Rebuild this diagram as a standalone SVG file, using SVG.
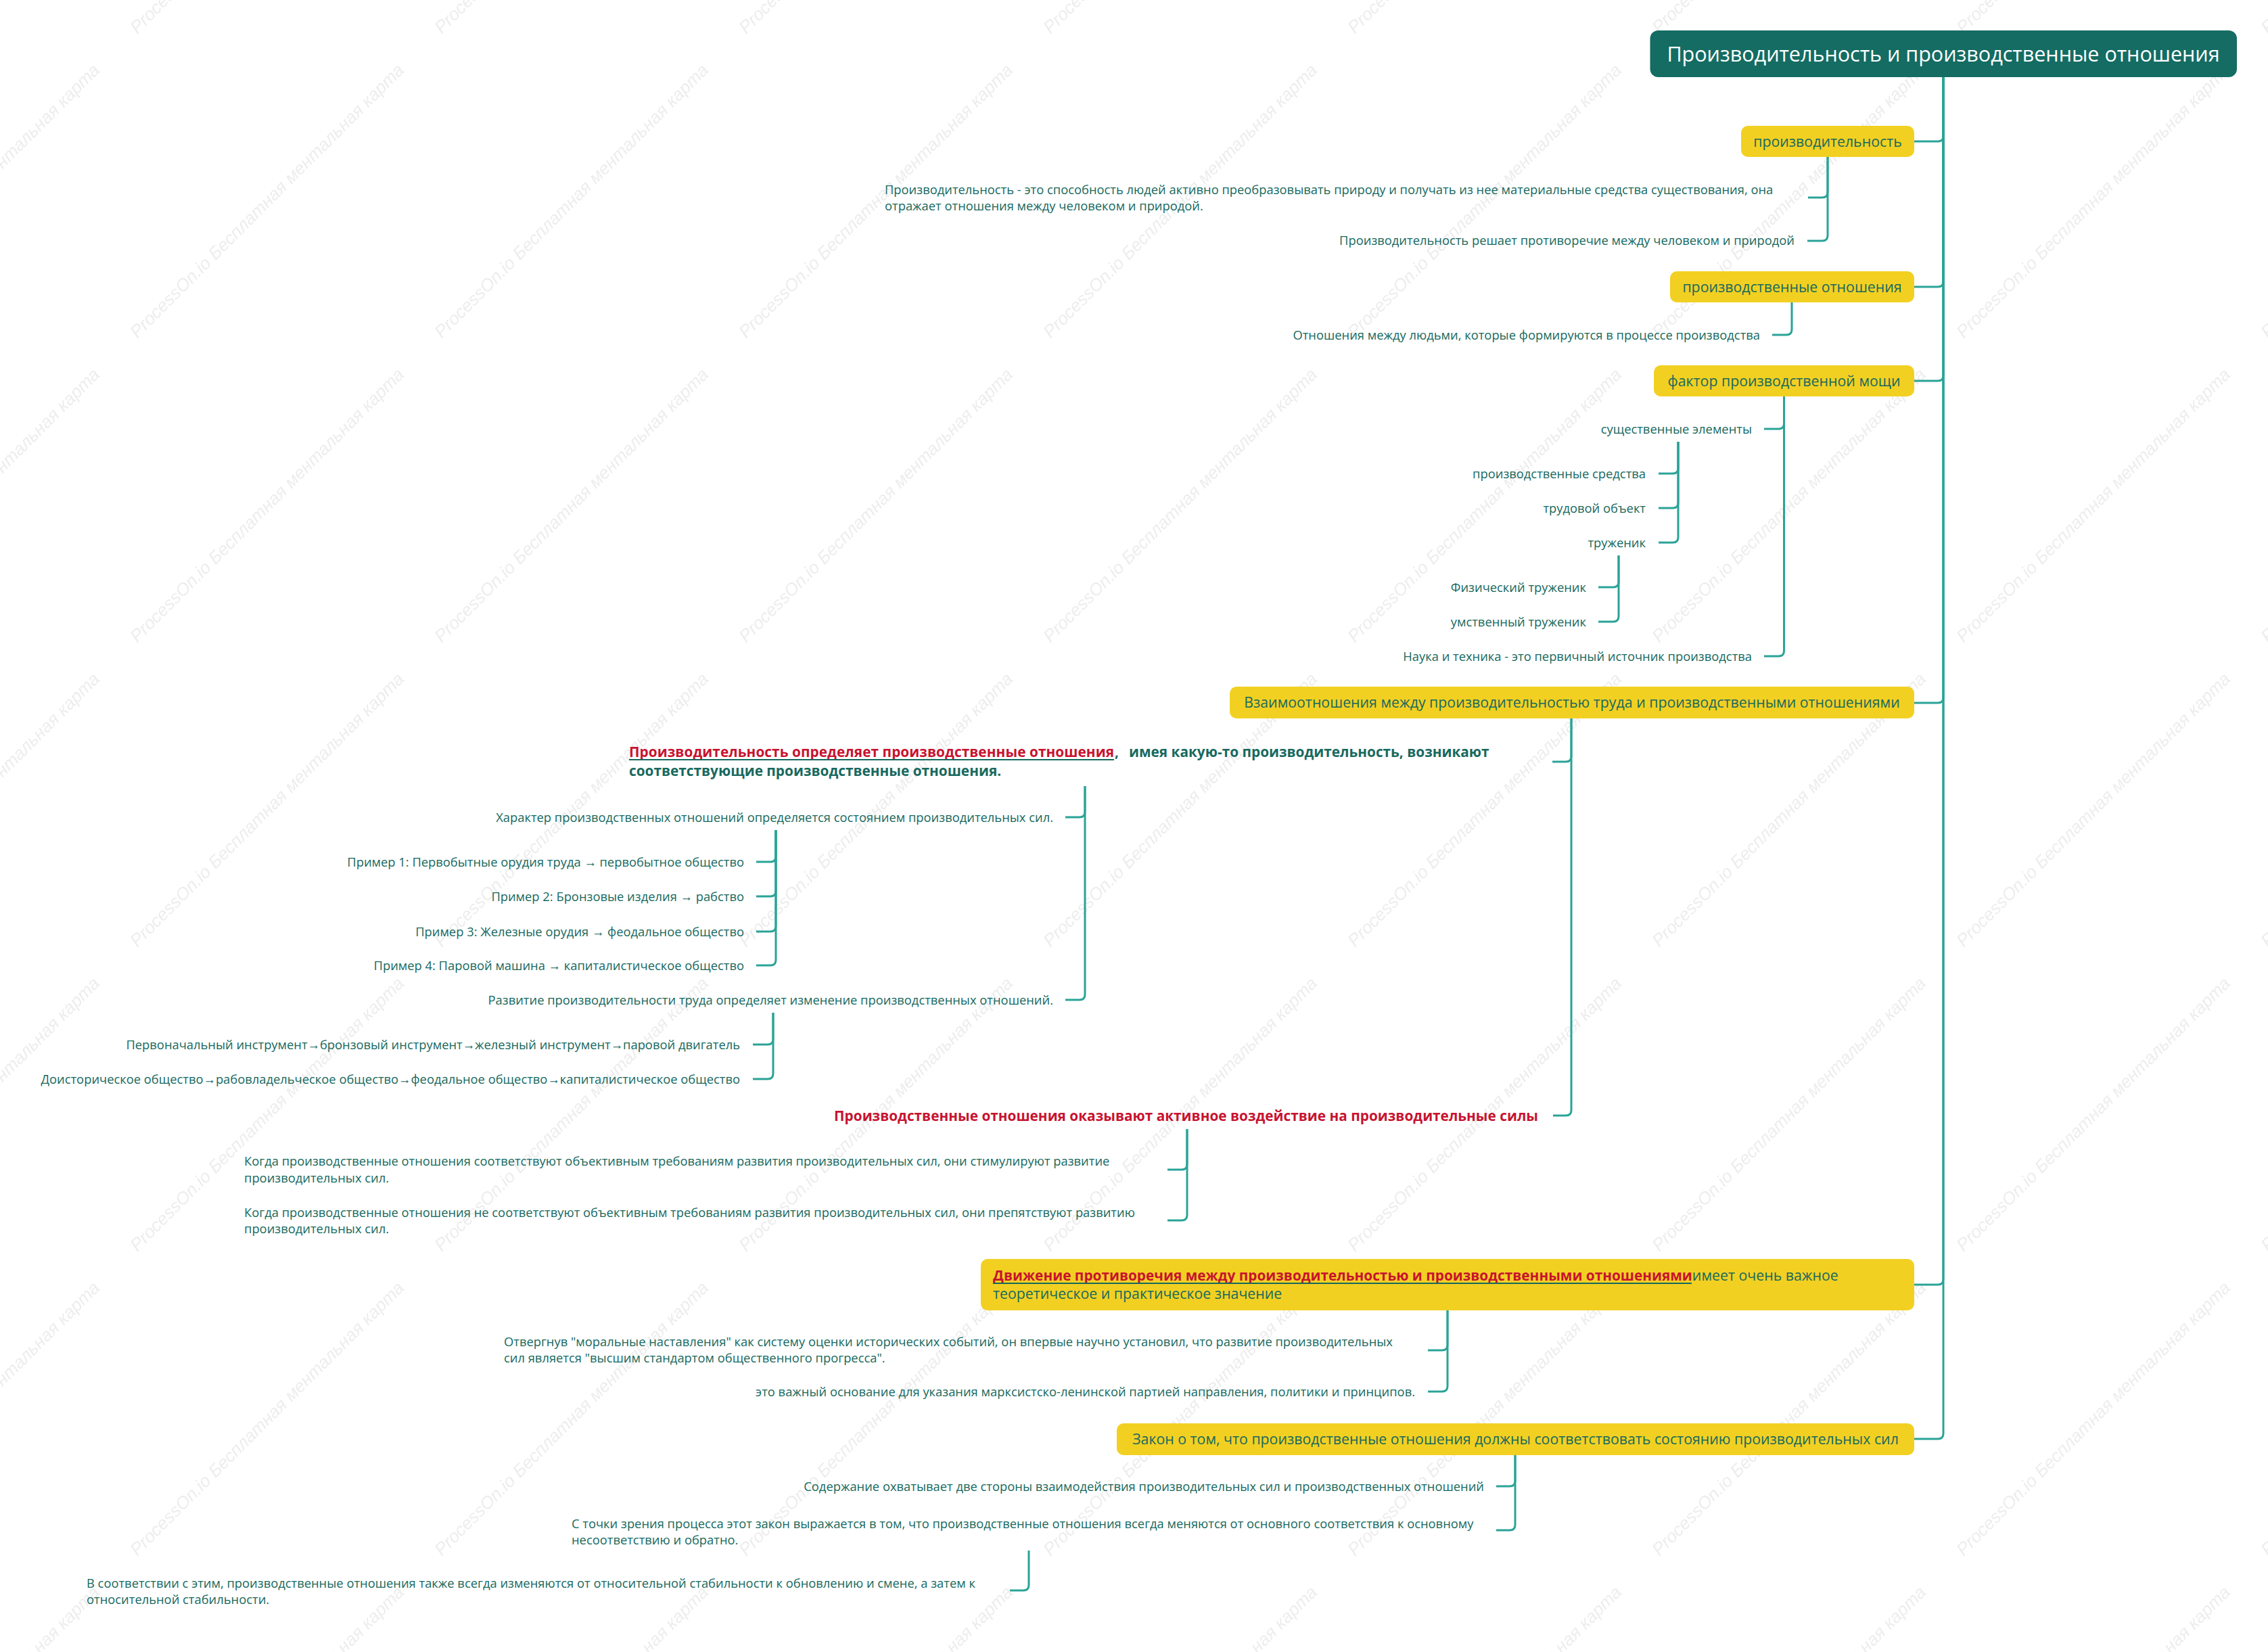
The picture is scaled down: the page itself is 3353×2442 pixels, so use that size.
<svg xmlns="http://www.w3.org/2000/svg" width="3353" height="2442" viewBox="0 0 3353 2442">
<style>
.wm{font-family:"Liberation Sans",Arial,sans-serif;font-size:26px;font-style:italic;fill:#ededed}
.root{fill:#146c63}
.rt{font-family:"Open Sans","Noto Sans",sans-serif;font-size:30.5px;fill:#ffffff;text-anchor:middle}
.l1{fill:#f2d022}
.t1{font-family:"Open Sans","Noto Sans",sans-serif;font-size:21.3px;fill:#17695e}
.c{text-anchor:middle}
.t2{font-family:"Open Sans","Noto Sans",sans-serif;font-size:18.35px;fill:#17695e}
.e{text-anchor:end}
.b{font-family:"Open Sans","Noto Sans",sans-serif;font-size:20.8px;font-weight:bold;fill:#17695e}
.rb{font-weight:bold;font-size:20.8px}
.red{fill:#c8132f}
.ul{stroke:#17695e;stroke-width:2}
.cn path{fill:none;stroke:#2aa397;stroke-width:3;stroke-linecap:butt}
</style>
<defs>
<pattern id="wmp" patternUnits="userSpaceOnUse" width="450" height="450">
<text class="wm" transform="translate(203 51) rotate(-45)">ProcessOn.io Бесплатная ментальная карта</text>
<text class="wm" transform="translate(-247 51) rotate(-45)">ProcessOn.io Бесплатная ментальная карта</text>
<text class="wm" transform="translate(203 501) rotate(-45)">ProcessOn.io Бесплатная ментальная карта</text>
<text class="wm" transform="translate(-247 501) rotate(-45)">ProcessOn.io Бесплатная ментальная карта</text>
</pattern>
</defs>
<rect width="3353" height="2442" fill="#ffffff"/>
<rect width="3353" height="2442" fill="url(#wmp)"/>

<g id="connectors" class="cn">
<path d="M2873 114 V201 Q2873 209 2865 209 H2830"/>
<path d="M2873 114 V416 Q2873 424 2865 424 H2830"/>
<path d="M2873 114 V555 Q2873 563 2865 563 H2830"/>
<path d="M2873 114 V1031 Q2873 1039 2865 1039 H2830"/>
<path d="M2873 114 V1891 Q2873 1899 2865 1899 H2830"/>
<path d="M2873 114 V2119 Q2873 2127 2865 2127 H2830"/>
<path d="M2702 232 V284 Q2702 292 2694 292 H2673"/>
<path d="M2702 232 V348 Q2702 356 2694 356 H2672"/>
<path d="M2649 447 V487 Q2649 495 2641 495 H2620"/>
<path d="M2637.5 586 V626 Q2637.5 634 2629.5 634 H2608"/>
<path d="M2637.5 586 V962 Q2637.5 970 2629.5 970 H2608"/>
<path d="M2481 653 V692 Q2481 700 2473 700 H2452"/>
<path d="M2481 653 V743 Q2481 751 2473 751 H2452"/>
<path d="M2481 653 V794 Q2481 802 2473 802 H2452"/>
<path d="M2393 821 V860 Q2393 868 2385 868 H2363"/>
<path d="M2393 821 V911 Q2393 919 2385 919 H2363"/>
<path d="M2323 1062 V1118 Q2323 1126 2315 1126 H2295"/>
<path d="M2323 1062 V1641 Q2323 1649 2315 1649 H2296"/>
<path d="M1604 1162 V1200 Q1604 1208 1596 1208 H1575"/>
<path d="M1604 1162 V1470 Q1604 1478 1596 1478 H1575"/>
<path d="M1147 1227 V1266 Q1147 1274 1139 1274 H1118"/>
<path d="M1147 1227 V1317 Q1147 1325 1139 1325 H1118"/>
<path d="M1147 1227 V1369 Q1147 1377 1139 1377 H1118"/>
<path d="M1147 1227 V1419 Q1147 1427 1139 1427 H1118"/>
<path d="M1143 1497 V1536 Q1143 1544 1135 1544 H1113"/>
<path d="M1143 1497 V1587 Q1143 1595 1135 1595 H1113"/>
<path d="M1755 1669 V1721 Q1755 1729 1747 1729 H1726"/>
<path d="M1755 1669 V1796 Q1755 1804 1747 1804 H1726"/>
<path d="M2140 1937 V1988 Q2140 1996 2132 1996 H2111"/>
<path d="M2140 1937 V2049 Q2140 2057 2132 2057 H2111"/>
<path d="M2240 2151 V2189 Q2240 2197 2232 2197 H2212"/>
<path d="M2240 2151 V2254 Q2240 2262 2232 2262 H2212"/>
<path d="M1521 2292 V2343 Q1521 2351 1513 2351 H1493"/>
</g>

<g id="root">
<rect class="root" x="2439.5" y="45" width="867.5" height="69" rx="12"/>
<text class="rt" x="2873" y="91">Производительность и производственные отношения</text>
</g>

<g id="n1">
<rect class="l1" x="2574" y="186" width="256" height="46" rx="10"/>
<text class="t1 c" x="2702" y="216.5">производительность</text>
</g>
<g id="n1a">
<text class="t2" x="1308" y="287">Производительность - это способность людей активно преобразовывать природу и получать из нее материальные средства существования, она</text>
<text class="t2" x="1308" y="311">отражает отношения между человеком и природой.</text>
</g>
<g id="n1b"><text class="t2 e" x="2653" y="362">Производительность решает противоречие между человеком и природой</text></g>

<g id="n2">
<rect class="l1" x="2469" y="401" width="361" height="46" rx="10"/>
<text class="t1 c" x="2649.5" y="431.5">производственные отношения</text>
</g>
<g id="n2a"><text class="t2 e" x="2602" y="502">Отношения между людьми, которые формируются в процессе производства</text></g>

<g id="n3">
<rect class="l1" x="2445" y="540" width="385" height="46" rx="10"/>
<text class="t1 c" x="2637.5" y="570.5">фактор производственной мощи</text>
</g>
<g id="n3a"><text class="t2 e" x="2590" y="641">существенные элементы</text></g>
<g id="n3a1"><text class="t2 e" x="2433" y="707">производственные средства</text></g>
<g id="n3a2"><text class="t2 e" x="2433" y="758">трудовой объект</text></g>
<g id="n3a3"><text class="t2 e" x="2433" y="809">труженик</text></g>
<g id="n3a3a"><text class="t2 e" x="2345" y="875">Физический труженик</text></g>
<g id="n3a3b"><text class="t2 e" x="2345" y="926">умственный труженик</text></g>
<g id="n3b"><text class="t2 e" x="2590" y="977">Наука и техника - это первичный источник производства</text></g>

<g id="n4">
<rect class="l1" x="1818" y="1015" width="1012" height="47" rx="10"/>
<text class="t1 c" x="2324" y="1046">Взаимоотношения между производительностью труда и производственными отношениями</text>
</g>
<g id="n4a">
<text class="b red" x="930" y="1119" textLength="717" lengthAdjust="spacing">Производительность определяет производственные отношения</text>
<text class="b" x="1648" y="1119">,</text>
<text class="b" x="1669" y="1119">имея какую-то производительность, возникают</text>
<line class="ul" x1="930" y1="1123" x2="1647" y2="1123"/>
<text class="b" x="930" y="1147">соответствующие производственные отношения.</text>
</g>
<g id="n4a1"><text class="t2 e" x="1557" y="1215">Характер производственных отношений определяется состоянием производительных сил.</text></g>
<g id="n4a1a"><text class="t2 e" x="1100" y="1281">Пример 1: Первобытные орудия труда → первобытное общество</text></g>
<g id="n4a1b"><text class="t2 e" x="1100" y="1332">Пример 2: Бронзовые изделия → рабство</text></g>
<g id="n4a1c"><text class="t2 e" x="1100" y="1384">Пример 3: Железные орудия → феодальное общество</text></g>
<g id="n4a1d"><text class="t2 e" x="1100" y="1434">Пример 4: Паровой машина → капиталистическое общество</text></g>
<g id="n4a2"><text class="t2 e" x="1557" y="1485">Развитие производительности труда определяет изменение производственных отношений.</text></g>
<g id="n4a2a"><text class="t2 e" x="1094" y="1551">Первоначальный инструмент→бронзовый инструмент→железный инструмент→паровой двигатель</text></g>
<g id="n4a2b"><text class="t2 e" x="1094" y="1602">Доисторическое общество→рабовладельческое общество→феодальное общество→капиталистическое общество</text></g>
<g id="n4b"><text class="b red e" x="2274" y="1657">Производственные отношения оказывают активное воздействие на производительные силы</text></g>
<g id="n4b1">
<text class="t2" x="361" y="1723">Когда производственные отношения соответствуют объективным требованиям развития производительных сил, они стимулируют развитие</text>
<text class="t2" x="361" y="1748">производительных сил.</text>
</g>
<g id="n4b2">
<text class="t2" x="361" y="1799">Когда производственные отношения не соответствуют объективным требованиям развития производительных сил, они препятствуют развитию</text>
<text class="t2" x="361" y="1823">производительных сил.</text>
</g>

<g id="n5">
<rect class="l1" x="1450" y="1861" width="1380" height="76" rx="10"/>
<text class="t1" x="1468" y="1893"><tspan class="red rb">Движение противоречия между производительностью и производственными отношениями</tspan><tspan>имеет очень важное</tspan></text>
<line class="ul" x1="1468" y1="1897" x2="2501" y2="1897"/>
<text class="t1" x="1468" y="1920">теоретическое и практическое значение</text>
</g>
<g id="n5a">
<text class="t2" x="745" y="1990">Отвергнув "моральные наставления" как систему оценки исторических событий, он впервые научно установил, что развитие производительных</text>
<text class="t2" x="745" y="2014">сил является "высшим стандартом общественного прогресса".</text>
</g>
<g id="n5b"><text class="t2 e" x="2092" y="2064">это важный основание для указания марксистско-ленинской партией направления, политики и принципов.</text></g>

<g id="n6">
<rect class="l1" x="1651" y="2104" width="1179" height="47" rx="10"/>
<text class="t1 c" x="2240.5" y="2135">Закон о том, что производственные отношения должны соответствовать состоянию производительных сил</text>
</g>
<g id="n6a"><text class="t2 e" x="2194" y="2204">Содержание охватывает две стороны взаимодействия производительных сил и производственных отношений</text></g>
<g id="n6b">
<text class="t2" x="845" y="2259">С точки зрения процесса этот закон выражается в том, что производственные отношения всегда меняются от основного соответствия к основному</text>
<text class="t2" x="845" y="2283">несоответствию и обратно.</text>
</g>
<g id="n6b1">
<text class="t2" x="128" y="2347">В соответствии с этим, производственные отношения также всегда изменяются от относительной стабильности к обновлению и смене, а затем к</text>
<text class="t2" x="128" y="2371">относительной стабильности.</text>
</g>
</svg>
